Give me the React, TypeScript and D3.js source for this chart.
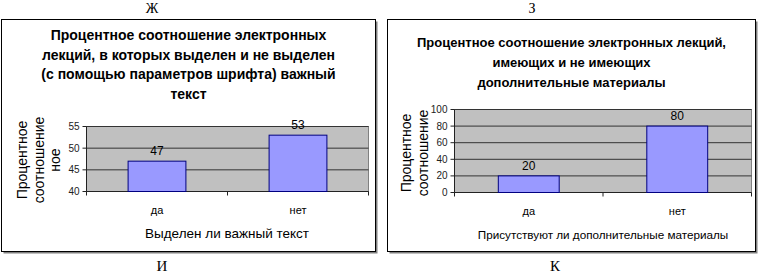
import React from "react";
import * as d3 from "d3";

// Chart Ж/И (left)
const leftCategories = ["да", "нет"];
const leftValues = [47, 53];
const leftTicks = [40, 45, 50, 55];
const leftTitle = [
  "Процентное соотношение электронных",
  "лекций, в которых выделен и не выделен",
  "(с помощью параметров шрифта) важный",
  "текст",
];
const leftYTitle = ["Процентное", "соотношение", "ное"];
const leftXTitle = "Выделен  ли важный текст";

// Chart З/К (right)
const rightCategories = ["да", "нет"];
const rightValues = [20, 80];
const rightTicks = [0, 20, 40, 60, 80, 100];
const rightTitle = [
  "Процентное соотношение электронных лекций,",
  "имеющих и не имеющих",
  "дополнительные материалы",
];
const rightYTitle = ["Процентное", "соотношение"];
const rightXTitle = "Присутствуют ли дополнительные материалы";

const FONT = "Arial, 'Liberation Sans', sans-serif";
const SERIF = "'Liberation Serif', 'Times New Roman', serif";

type ChartProps = {
  frame: [number, number, number, number];
  plot: [number, number, number, number];
  categories: string[];
  values: number[];
  ticks: number[];
  title: string[];
  titleY: number;
  titleStep: number;
  titleSize: number;
  yTitle: string[];
  yTitleX: number;
  yTitleY: number;
  xTitle: string;
  xTitleX: number;
  xTitleSize: number;
};

function Chart(p: ChartProps) {
  const [fx0, fy0, fx1, fy1] = p.frame;
  const [px0, py0, px1, py1] = p.plot;
  const x = d3.scaleBand<string>().domain(p.categories).range([px0, px1]).padding(0);
  const y = d3
    .scaleLinear()
    .domain([p.ticks[0], p.ticks[p.ticks.length - 1]])
    .range([py1, py0]);
  const bw = x.bandwidth() * 0.41;
  const cx = (fx0 + fx1) / 2;
  const boundaries = [px0, ...p.categories.map((c) => (x(c) as number) + x.bandwidth())];
  return (
    <g>
      <rect x={fx0 + 2} y={fy0 + 2} width={fx1 - fx0} height={fy1 - fy0} fill="#808080" />
      <rect x={fx0} y={fy0} width={fx1 - fx0} height={fy1 - fy0} fill="#fff" stroke="#000" strokeWidth={1} />
      {p.title.map((t, i) => (
        <text
          key={i}
          x={cx}
          y={p.titleY + i * p.titleStep}
          textAnchor="middle"
          fontFamily={FONT}
          fontWeight="bold"
          fontSize={p.titleSize}
          fill="#000"
        >
          {t}
        </text>
      ))}
      <rect x={px0} y={py0} width={px1 - px0} height={py1 - py0} fill="#c0c0c0" stroke="#808080" strokeWidth={1} />
      {p.ticks.slice(1).map((t) => (
        <line key={t} x1={px0} x2={px1} y1={y(t)} y2={y(t)} stroke="#333" strokeWidth={1} />
      ))}
      <line x1={px0} x2={px0} y1={py0} y2={py1} stroke="#222" />
      <line x1={px0} x2={px1} y1={py1} y2={py1} stroke="#222" />
      {p.ticks.map((t) => (
        <g key={"t" + t}>
          <line x1={px0 - 4} x2={px0} y1={y(t)} y2={y(t)} stroke="#222" />
          <text x={px0 - 7} y={y(t) + 3.5} textAnchor="end" fontFamily={FONT} fontSize={10} fill="#222">
            {t}
          </text>
        </g>
      ))}
      {boundaries.map((b, i) => (
        <line key={"b" + i} x1={b} x2={b} y1={py1} y2={py1 + 4} stroke="#222" />
      ))}
      {p.categories.map((c, i) => {
        const mid = (x(c) as number) + x.bandwidth() / 2;
        return (
          <g key={c}>
            <rect
              x={mid - bw / 2}
              y={y(p.values[i])}
              width={bw}
              height={py1 - y(p.values[i])}
              fill="#9999ff"
              stroke="#000080"
              strokeWidth={1}
            />
            <text x={mid} y={y(p.values[i]) - 6} textAnchor="middle" fontFamily={FONT} fontSize={12} fill="#000">
              {p.values[i]}
            </text>
            <text x={mid} y={py1 + 22} textAnchor="middle" fontFamily={FONT} fontSize={11} fill="#000">
              {c}
            </text>
          </g>
        );
      })}
      {p.yTitle.map((t, i) => (
        <text
          key={"y" + i}
          transform={`translate(${p.yTitleX + i * 16.5},${p.yTitleY}) rotate(-90)`}
          textAnchor="middle"
          fontFamily={FONT}
          fontSize={14}
          fill="#000"
        >
          {t}
        </text>
      ))}
      <text x={p.xTitleX} y={py1 + 46} textAnchor="middle" fontFamily={FONT} fontSize={p.xTitleSize} fill="#000">
        {p.xTitle}
      </text>
    </g>
  );
}

export default function App() {
  return (
    <svg
      width={759}
      height={277}
      style={{ position: "absolute", left: 0, top: 0, background: "#fff" }}
    >
      <text x={152} y={13} textAnchor="middle" fontFamily={SERIF} fontSize={14}>
        Ж
      </text>
      <text x={532} y={13} textAnchor="middle" fontFamily={SERIF} fontSize={14}>
        З
      </text>
      <text x={162} y={271} textAnchor="middle" fontFamily={SERIF} fontSize={15}>
        И
      </text>
      <text x={555} y={271} textAnchor="middle" fontFamily={SERIF} fontSize={15}>
        К
      </text>
      <Chart
        frame={[1.5, 19.5, 375.5, 251.5]}
        plot={[86.5, 126.5, 368.5, 191.5]}
        categories={leftCategories}
        values={leftValues}
        ticks={leftTicks}
        title={leftTitle}
        titleY={40}
        titleStep={19.5}
        titleSize={14}
        yTitle={leftYTitle}
        yTitleX={27}
        yTitleY={160}
        xTitle={leftXTitle}
        xTitleX={227}
        xTitleSize={13.5}
      />
      <Chart
        frame={[387.5, 19.5, 755.5, 251.5]}
        plot={[454.5, 109.5, 751.5, 192.5]}
        categories={rightCategories}
        values={rightValues}
        ticks={rightTicks}
        title={rightTitle}
        titleY={47}
        titleStep={20}
        titleSize={13}
        yTitle={rightYTitle}
        yTitleX={411}
        yTitleY={153}
        xTitle={rightXTitle}
        xTitleX={603}
        xTitleSize={11.7}
      />
    </svg>
  );
}
